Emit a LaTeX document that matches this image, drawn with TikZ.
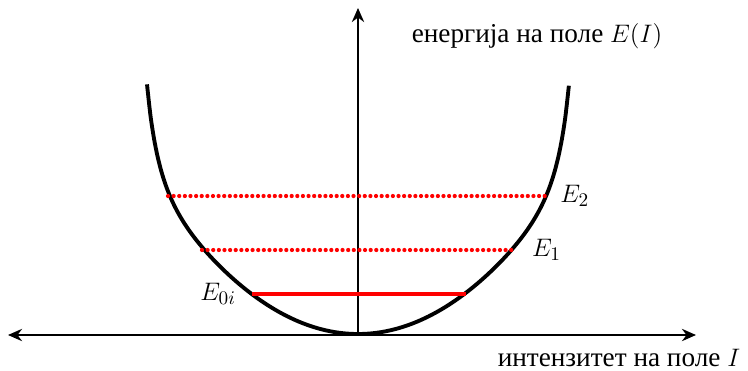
\documentclass[tikz,border=0pt]{standalone}
\usepackage{fontspec}
\setmainfont{Liberation Serif}
\usetikzlibrary{arrows.meta, positioning}

\begin{document}
\begin{tikzpicture}[
  x=0.02cm, y=-0.02cm,
  axis/.style={draw=black, line width=1.1pt, {Stealth[length=8pt,width=7pt]}-{Stealth[length=8pt,width=7pt]}},
  well/.style={draw=black, line width=2.2pt},
  level/.style={draw=red, line width=2.2pt},
  dotlevel/.style={draw=red, line width=2.4pt, line cap=round, dash pattern=on 0pt off 3.2pt},
  lbl/.style={font=\fontsize{15.5}{18}\selectfont, inner sep=0pt}
]
\useasboundingbox (0,0) rectangle (748,370);

% Axes
\coordinate (O)  at (358,335);
\coordinate (xl) at (8,335);
\coordinate (xr) at (696,335);
\coordinate (yt) at (358,8);
\draw[axis] (xl) -- (xr);
\draw[axis, {Stealth[length=8pt,width=7pt]}-] (yt) -- (O);

% Potential well
\draw[well] plot[domain=-2.11:2.11, samples=121, smooth]
  ({358+100*\x}, {334-35.4*\x*\x/(1-(abs(\x)/2.293)^12)});

% Levels
\coordinate (l2) at (168,196);
\coordinate (r2) at (546,196);
\coordinate (l1) at (202,250);
\coordinate (r1) at (515,250);
\coordinate (l0) at (252,294);
\coordinate (r0) at (466,294);
\draw[dotlevel] (l2) -- (r2);
\draw[dotlevel] (l1) -- (r1);
\draw[level] (l0) -- (r0);

% Labels
\node[lbl, right=8pt of r2] (e2) {$E_2$};
\node[lbl, right=9.5pt of r1] (e1) {$E_1$};
\node[lbl, left=9pt of l0] (e0) {$E_{0i}$};
\node[lbl] (ylab) at (537,36) {енергија на поле $E(I)$};
\node[lbl] (xlab) at (619,358) {интензитет на поле $I$};
\end{tikzpicture}
\end{document}
